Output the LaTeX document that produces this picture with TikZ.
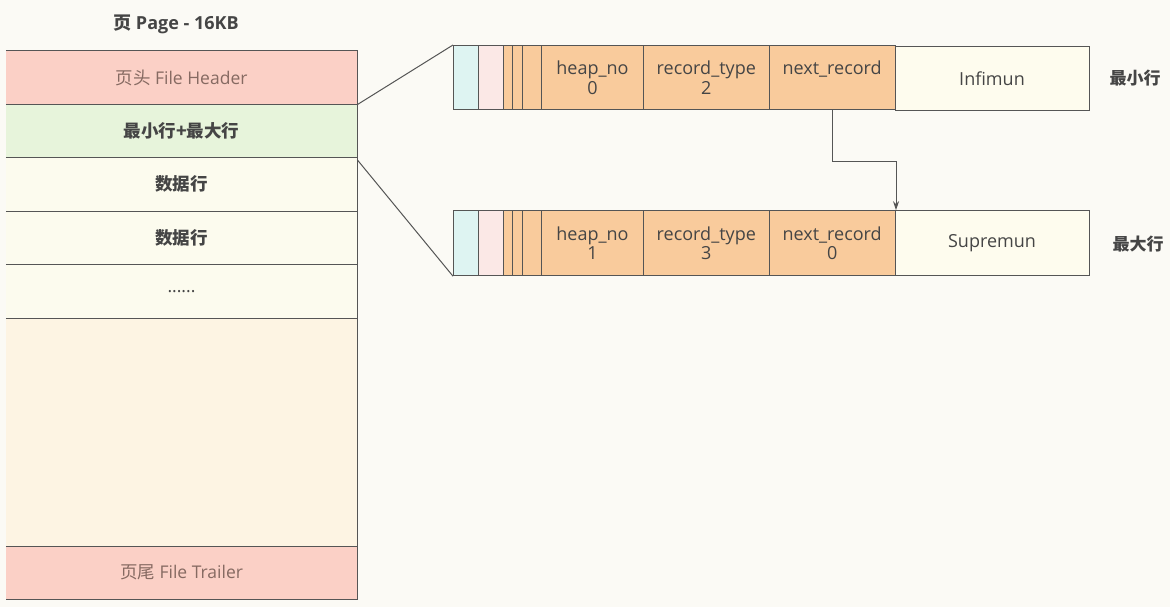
\documentclass[tikz,border=0pt]{standalone}
\usepackage{fontspec}
\setmainfont{Open Sans}
\newfontfamily\cjk{Noto Sans CJK SC}
\usetikzlibrary{arrows.meta}
\definecolor{bgc}{HTML}{FBFAF5}
\definecolor{hdr}{HTML}{FBD0C6}
\definecolor{grn}{HTML}{E7F4DB}
\definecolor{datac}{HTML}{FCFBEE}
\definecolor{emptyc}{HTML}{FDF4E3}
\definecolor{orng}{HTML}{F9CB9C}
\definecolor{cyn}{HTML}{DEF4F2}
\definecolor{pnk}{HTML}{FBE8E6}
\definecolor{infc}{HTML}{FEFCEE}
\definecolor{txt}{HTML}{454545}
\definecolor{htxt}{HTML}{866A62}
\definecolor{ln}{HTML}{555555}
\tikzset{
  row/.style={rectangle, inner sep=0pt, minimum width=351pt, text=txt, font=\fontsize{17.5}{20}\selectfont},
  cell/.style={rectangle, draw=ln, line width=1pt, inner sep=0pt, text=txt, align=center,
    font=\fontsize{18}{19.5}\selectfont},
  sep/.style={draw=ln, line width=1.1pt},
  conn/.style={draw=ln, line width=1pt},
  side/.style={text=txt, font=\cjk\bfseries\fontsize{17}{19}\selectfont},
}
\begin{document}
\begin{tikzpicture}[x=1pt,y=-1pt]
\fill[bgc] (0,0) rectangle (1170,607);
\useasboundingbox (0,0) rectangle (1170,607);
% title
\node[text=txt, font=\bfseries\fontsize{18}{20}\selectfont] (title) at (176,24) {{\cjk 页} Page - 16KB};
% page column
\node[row, fill=hdr, minimum height=53.5pt, text=htxt] (fh) at (181.5,77.75) {{\cjk 页头} File Header};
\node[row, fill=grn, minimum height=53pt] (mm) at (181.5,131) {\cjk\bfseries 最小行+最大行};
\node[row, fill=datac, minimum height=53.5pt] (d1) at (181.5,184.25) {\cjk\bfseries 数据行};
\node[row, fill=datac, minimum height=53.5pt] (d2) at (181.5,237.75) {\cjk\bfseries 数据行};
\node[row, fill=datac, minimum height=53.5pt] (d3) at (181.5,291.25) {......};
\node[row, fill=emptyc, minimum height=228pt] (free) at (181.5,432) {};
\node[row, fill=hdr, minimum height=53pt, text=htxt] (ft) at (181.5,572.5) {{\cjk 页尾} File Trailer};
\draw[sep] (fh.north west) -- (fh.north east) -- (ft.south east) -- (ft.south west);
\foreach \n in {fh,mm,d1,d2,d3,free}{\draw[sep] (\n.south west) -- (\n.south east);}
% top record
\node[cell, fill=cyn, minimum width=24.5pt, minimum height=64.5pt] (tc) at (465.75,77.75) {};
\node[cell, fill=pnk, minimum width=25.5pt, minimum height=64.5pt] (tp) at (490.75,77.75) {};
\node[cell, fill=orng, minimum width=9.2pt, minimum height=64.5pt] (to1) at (508.1,77.75) {};
\node[cell, fill=orng, minimum width=9.6pt, minimum height=64.5pt] (to2) at (517.5,77.75) {};
\node[cell, fill=orng, minimum width=19.4pt, minimum height=64.5pt] (to3) at (532,77.75) {};
\node[cell, fill=orng, minimum width=101.6pt, minimum height=64.5pt] (th) at (592.5,77.75) {heap\_no\\0};
\node[cell, fill=orng, minimum width=126pt, minimum height=64.5pt] (tr) at (706.3,77.75) {record\_type\\2};
\node[cell, fill=orng, minimum width=125.7pt, minimum height=64.5pt] (tn) at (832.15,77.75) {next\_record\\\phantom{0}};
\node[cell, fill=infc, minimum width=194pt, minimum height=64.5pt] (ti) at (992,78.5) {Infimun};
\node[side] (tl) at (1135,78) {最小行};
% bottom record
\node[cell, fill=cyn, minimum width=24.5pt, minimum height=65pt] (bc) at (465.75,243.2) {};
\node[cell, fill=pnk, minimum width=25.5pt, minimum height=65pt] (bp) at (490.75,243.2) {};
\node[cell, fill=orng, minimum width=9.2pt, minimum height=65pt] (bo1) at (508.1,243.2) {};
\node[cell, fill=orng, minimum width=9.6pt, minimum height=65pt] (bo2) at (517.5,243.2) {};
\node[cell, fill=orng, minimum width=19.4pt, minimum height=65pt] (bo3) at (532,243.2) {};
\node[cell, fill=orng, minimum width=101.6pt, minimum height=65pt] (bh) at (592.5,243.2) {heap\_no\\1};
\node[cell, fill=orng, minimum width=126pt, minimum height=65pt] (br) at (706.3,243.2) {record\_type\\3};
\node[cell, fill=orng, minimum width=125.7pt, minimum height=65pt] (bn) at (832.15,243.2) {next\_record\\0};
\node[cell, fill=infc, minimum width=194pt, minimum height=65pt] (bi) at (992,243.2) {Supremun};
\node[side] (bl) at (1138,244) {最大行};
% connectors
\draw[conn] (fh.south east) -- (tc.north west);
\draw[conn] ([yshift=-2pt]mm.south east) -- (bc.south west);
\draw[conn, -{Stealth[length=9pt,width=6pt]}] (tn.south) -- ++(0,51) -| ([xshift=1.5pt]bi.north west);
\end{tikzpicture}
\end{document}
